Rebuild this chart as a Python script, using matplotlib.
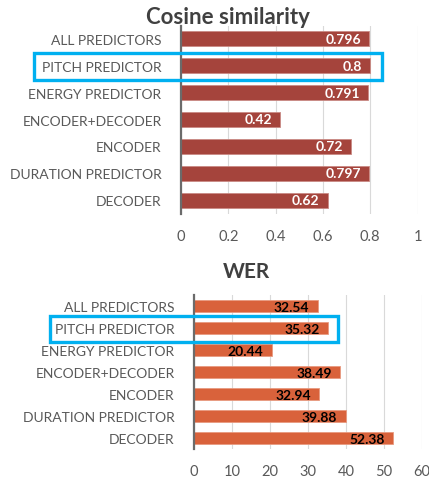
import matplotlib
matplotlib.use("Agg")
import matplotlib.pyplot as plt
from matplotlib.patches import Rectangle

plt.rcParams["font.family"] = ["Lato", "DejaVu Sans"]

categories = ["ALL PREDICTORS", "PITCH PREDICTOR", "ENERGY PREDICTOR",
              "ENCODER+DECODER", "ENCODER", "DURATION PREDICTOR", "DECODER"]
cosine = [0.796, 0.8, 0.791, 0.42, 0.72, 0.797, 0.62]
cosine_labels = ["0.796", "0.8", "0.791", "0.42", "0.72", "0.797", "0.62"]
wer = [32.54, 35.32, 20.44, 38.49, 32.94, 39.88, 52.38]
wer_ticks = [0, 10, 20, 30, 40, 50, 60]
cos_ticks = [0, 0.2, 0.4, 0.6, 0.8, 1]

W, H = 429, 481
fig = plt.figure(figsize=(W / 100, H / 100), dpi=100)
text_col = "#595959"


def px(l, t, r, b):
    return [l / W, 1 - b / H, (r - l) / W, (b - t) / H]


def style(ax, ticks, ticklabels, xmax):
    ax.set_xlim(0, xmax)
    ax.set_ylim(len(categories) - 0.5, -0.5)
    ax.set_yticks(range(len(categories)))
    ax.set_yticklabels(categories)
    ax.set_xticks(ticks)
    ax.set_xticklabels(ticklabels)
    for s in ["top", "right", "bottom"]:
        ax.spines[s].set_visible(False)
    ax.spines["left"].set_color("#6b6b6b")
    ax.spines["left"].set_linewidth(1.6)
    ax.tick_params(length=0, colors=text_col, labelsize=10)
    ax.tick_params(axis="y", pad=14)
    ax.tick_params(axis="x", pad=11, labelsize=10.5)
    ax.grid(axis="x", color="#d9d9d9", linewidth=0.8)
    ax.set_axisbelow(True)


# cosine similarity
ax1 = fig.add_axes(px(181, 26.5, 417.5, 214.5))
ax1.barh(range(len(categories)), cosine, height=0.56, color="#a5443c",
         edgecolor="#c98a84", linewidth=0.6)
style(ax1, cos_ticks, ["0", "0.2", "0.4", "0.6", "0.8", "1"], 1)
for i, v in enumerate(cosine):
    ax1.annotate(cosine_labels[i], (v, i), xytext=(-6, 0), textcoords="offset points",
                 ha="right", va="center", color="white", fontweight="bold", fontsize=10)
fig.text(228 / W, 1 - 18 / H, "Cosine similarity", ha="center", va="center",
         fontsize=16, fontweight="bold", color="#404040")

# WER
ax2 = fig.add_axes(px(194, 296, 422, 450))
ax2.barh(range(len(categories)), wer, height=0.58, color="#d9623b",
         edgecolor="#e89a80", linewidth=0.6)
style(ax2, wer_ticks, [str(t) for t in wer_ticks], 60)
for i, v in enumerate(wer):
    ax2.annotate(f"{v:.2f}", (v, i), xytext=(-6, -1), textcoords="offset points",
                 ha="right", va="center", color="black", fontweight="bold", fontsize=10)
fig.text(246 / W, 1 - 272 / H, "WER", ha="center", va="center",
         fontsize=15, fontweight="bold", color="#404040")

# highlight boxes around the pitch predictor rows
for (l, t, r, b) in [(34, 54, 382, 81), (50, 317, 338, 343)]:
    fig.patches.append(Rectangle((l / W, 1 - b / H), (r - l) / W, (b - t) / H,
                                 transform=fig.transFigure, fill=False,
                                 edgecolor="#00b0f0", linewidth=2.4, zorder=10))

fig.savefig("out.png", dpi=100)
